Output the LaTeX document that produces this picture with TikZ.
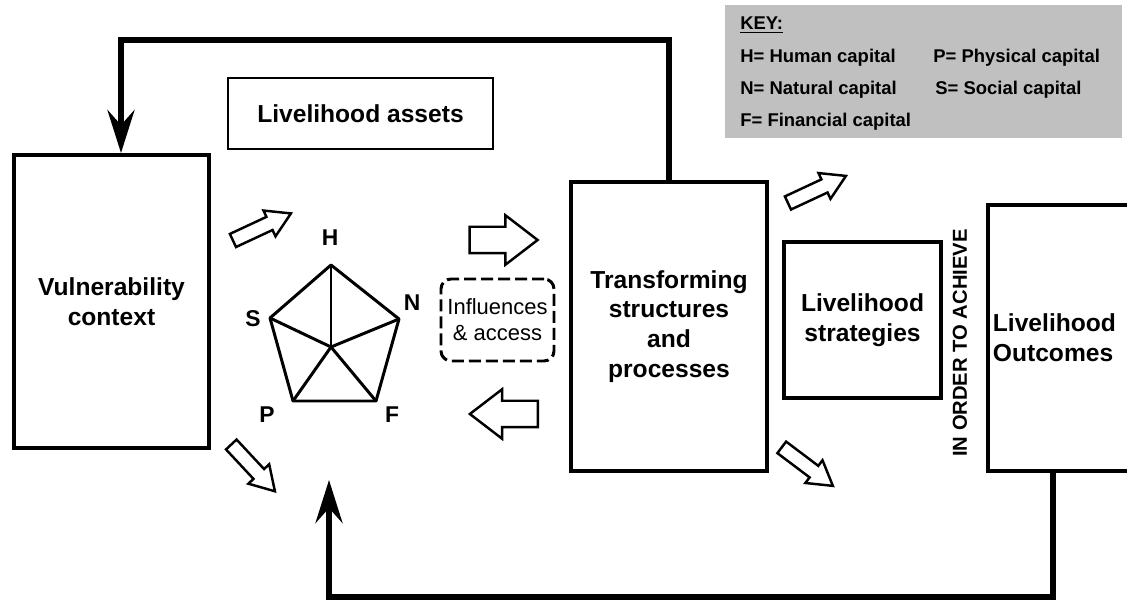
\documentclass[tikz,border=0pt]{standalone}
\usepackage{fontspec}
\setmainfont{Liberation Sans}
\usetikzlibrary{arrows.meta,shapes.arrows}
\definecolor{keygray}{RGB}{192,192,192}

\begin{document}
\begin{tikzpicture}
% Styles
\tikzset{
    box/.style={draw, line width=2.2pt, align=center, inner sep=0pt, font=\fontsize{14}{17}\selectfont\bfseries},
    loopline/.style={line width=3.4pt, -{Stealth[length=0.86cm, width=0.54cm, inset=0.3cm]}},
    fatarrow/.style={single arrow, draw, line width=1.4pt, inner xsep=0pt, inner ysep=0.24cm, minimum height=1.36cm, minimum width=0.98cm, single arrow head extend=0.23cm, single arrow tip angle=75},
    thinarrow/.style={single arrow, draw, line width=1.4pt, inner xsep=0pt, inner ysep=0.12cm, minimum height=1.28cm, minimum width=0.52cm, single arrow head extend=0.14cm, single arrow tip angle=62},
    capital/.style={font=\fontsize{13}{15}\selectfont\bfseries, inner sep=0pt},
    keyitem/.style={anchor=base west, inner sep=0pt, font=\fontsize{10.5}{12}\selectfont\bfseries}
}

\clip (0, 0) rectangle (22.54, -12.02);

% Boxes
\node[box, minimum width=3.9cm, minimum height=5.86cm] (vuln) at (2.23, -6.03) {Vulnerability\\context};
\node[draw, line width=0.6pt, minimum width=5.3cm, minimum height=1.42cm, font=\fontsize{14}{17}\selectfont\bfseries] (assets) at (7.21, -2.27) {Livelihood assets};
\node[box, minimum width=3.92cm, minimum height=5.78cm] (trans) at (13.38, -6.53) {Transforming\\structures\\and\\processes};
\node[box, minimum width=3.14cm, minimum height=3.12cm] (strat) at (17.25, -6.4) {Livelihood\\strategies};
\node[box, align=left, text width=2.74cm, inner xsep=0.1cm, minimum height=5.32cm, anchor=west] (outc) at (19.72, -6.76) {Livelihood\\Outcomes};
\node[rotate=90, font=\fontsize{11.5}{13}\selectfont\bfseries] (achieve) at (19.2, -6.86) {IN ORDER TO ACHIEVE};

% Key
\node[fill=keygray, minimum width=7.94cm, minimum height=2.66cm] (key) at (18.47, -1.43) {};
\node[keyitem] (keyhead) at (14.8, -0.6) {\underline{KEY:}};
\node[keyitem] (keyH) at (14.8, -1.26) {H= Human capital};
\node[keyitem] (keyP) at (18.66, -1.26) {P= Physical capital};
\node[keyitem] (keyN) at (14.8, -1.9) {N= Natural capital};
\node[keyitem] (keyS) at (18.7, -1.9) {S= Social capital};
\node[keyitem] (keyF) at (14.8, -2.54) {F= Financial capital};

% Asset pentagon
\coordinate (H) at (6.62, -5.3);
\coordinate (N) at (7.98, -6.38);
\coordinate (F) at (7.52, -8.02);
\coordinate (P) at (5.86, -8.02);
\coordinate (S) at (5.4, -6.36);
\coordinate (C) at (6.62, -6.94);
\draw[line width=1.7pt, line join=round] (H) -- (N) -- (F) -- (P) -- (S) -- cycle;
\foreach \v in {H, N, F, P, S}
    \draw[line width=1.7pt] (C) -- (\v);

\node[capital] (labH) at (6.6, -4.76) {H};
\node[capital] (labS) at (5.06, -6.38) {S};
\node[capital] (labN) at (8.24, -6.06) {N};
\node[capital] (labP) at (5.34, -8.3) {P};
\node[capital] (labF) at (7.84, -8.3) {F};

\node[draw, dash pattern=on 0.24cm off 0.1cm, rounded corners=0.2cm, line width=1.7pt, minimum width=2.26cm, minimum height=1.64cm, align=center, font=\fontsize{12.5}{14.7}\selectfont] (infl) at (9.95, -6.4) {Influences\\\& access};

% Hollow arrows
\node[fatarrow] (toTrans) at (9.9, -4.8) {};
\node[fatarrow, rotate=180] (fromTrans) at (10.25, -8.28) {};
\node[thinarrow, rotate=25] (vulnUp) at (5.13, -4.59) {};
\node[thinarrow, rotate=-47] (vulnDown) at (4.98, -9.27) {};
\node[thinarrow, rotate=25] (transUp) at (16.23, -3.84) {};
\node[thinarrow, rotate=-37] (transDown) at (16.05, -9.26) {};

% Feedback loops
\coordinate (assetsIn) at (6.58, -9.6);
\draw[loopline] (trans.north) -- ++(0, 2.8) -| ([xshift=0.19cm]vuln.north);
\draw[loopline] ([xshift=1.34cm]outc.south west) -- ++(0, -2.48) -| (assetsIn);
\end{tikzpicture}
\end{document}
